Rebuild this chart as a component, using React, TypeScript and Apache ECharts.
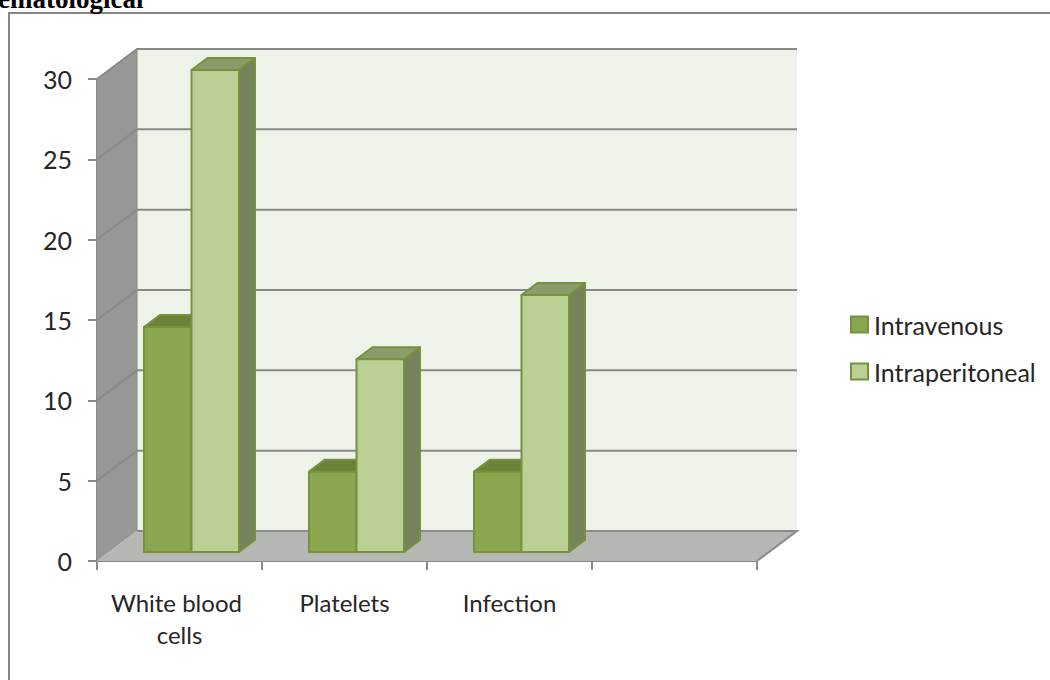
import React, { useEffect, useRef } from "react";
import * as echarts from "echarts";

const categories = ["White blood cells", "Platelets", "Infection", ""];
const intravenous = [14, 5, 5];
const intraperitoneal = [30, 12, 16];
const yTicks = [0, 5, 10, 15, 20, 25, 30];
const Y_MAX = 30;

// 3D projection offsets
const DEPTH = { x: 40, y: -30 };
const BAR_DEPTH = { x: 16, y: -12 };
const BAR_INSET = { x: 12, y: -9 };
const BAR_FRACTION = 0.2879;

const FONT = "Lato";
const TEXT = "#262626";
const LINE = "#8a8a8a";

function wallsItem(params: any, api: any) {
  const band = api.size([1, 0])[0];
  const left = api.coord([0, 0])[0] - band / 2;
  const right = left + band * categories.length;
  const y0 = api.coord([0, 0])[1];
  const yTop = api.coord([0, Y_MAX])[1];
  const d = DEPTH;
  return {
    type: "group",
    children: [
      { type: "polygon", shape: { points: [[left + d.x, yTop + d.y], [right + d.x, yTop + d.y], [right + d.x, y0 + d.y], [left + d.x, y0 + d.y]] }, style: { fill: "#eef3e9", stroke: "none" } },
      { type: "polygon", shape: { points: [[left, yTop], [left + d.x, yTop + d.y], [left + d.x, y0 + d.y], [left, y0]] }, style: { fill: "#969894", stroke: "none" } },
      { type: "polygon", shape: { points: [[left, y0], [left + d.x, y0 + d.y], [right + d.x, y0 + d.y], [right, y0]] }, style: { fill: "#b5b7b2", stroke: "none" } },
      { type: "polyline", shape: { points: [[right, y0], [right + d.x, y0 + d.y], [left + d.x, y0 + d.y]] }, style: { fill: "none", stroke: LINE, lineWidth: 2 } },
      { type: "polyline", shape: { points: [[left, yTop], [left + d.x, yTop + d.y], [right + d.x, yTop + d.y]] }, style: { fill: "none", stroke: LINE, lineWidth: 2 } },
      { type: "line", shape: { x1: left + d.x, y1: yTop + d.y, x2: left + d.x, y2: y0 + d.y }, style: { stroke: LINE, lineWidth: 1 } },
    ],
  };
}

function gridItem(params: any, api: any) {
  const band = api.size([1, 0])[0];
  const left = api.coord([0, 0])[0] - band / 2;
  const right = left + band * categories.length;
  const y = api.coord([0, api.value(1)])[1];
  const d = DEPTH;
  return {
    type: "polyline",
    shape: { points: [[left, y], [left + d.x, y + d.y], [right + d.x, y + d.y]] },
    style: { fill: "none", stroke: LINE, lineWidth: 2 },
  };
}

function barItem(side: -1 | 1, front: string, top: string, flank: string) {
  return (params: any, api: any) => {
    const band = api.size([1, 0])[0];
    const w = band * BAR_FRACTION;
    const c = api.coord([api.value(0), 0]);
    const t = api.coord([api.value(0), api.value(1)]);
    const x0 = (side < 0 ? c[0] - w : c[0]) + BAR_INSET.x;
    const x1 = x0 + w;
    const yb = c[1] + BAR_INSET.y;
    const yt = t[1] + BAR_INSET.y;
    const b = BAR_DEPTH;
    const stroke = "#76923c";
    const style = (fill: string) => ({ fill, stroke, lineWidth: 2, lineJoin: "round" });
    return {
      type: "group",
      children: [
        { type: "polygon", shape: { points: [[x1, yt], [x1 + b.x, yt + b.y], [x1 + b.x, yb + b.y], [x1, yb]] }, style: style(flank) },
        { type: "polygon", shape: { points: [[x0, yt], [x0 + b.x, yt + b.y], [x1 + b.x, yt + b.y], [x1, yt]] }, style: style(top) },
        { type: "rect", shape: { x: x0, y: yt, width: w, height: yb - yt }, style: style(front) },
      ],
    };
  };
}

export default function App() {
  const ref = useRef<HTMLDivElement>(null);
  useEffect(() => {
    const chart = echarts.init(ref.current!, undefined, { renderer: "svg" });
    chart.setOption({
      animation: false,
      backgroundColor: "#ffffff",
      title: {
        text: "ematological",
        left: -2,
        top: -15,
        padding: 0,
        textStyle: { fontFamily: "Liberation Serif", fontWeight: "bold", fontSize: 27, color: "#000000" },
      },
      graphic: [
        { type: "rect", shape: { x: 9, y: 13, width: 1100, height: 720 }, style: { fill: "none", stroke: "#868686", lineWidth: 2 }, silent: true },
      ],
      grid: { left: 97, top: 79, width: 660, height: 482 },
      legend: {
        orient: "vertical",
        left: 850,
        top: 312,
        padding: 0,
        itemWidth: 17,
        itemHeight: 16,
        itemGap: 22,
        itemStyle: { borderWidth: 2 },
        icon: "rect",
        data: ["Intravenous", "Intraperitoneal"],
        textStyle: { fontFamily: FONT, fontSize: 25, color: TEXT, padding: [0, 0, 0, 1] },
      },
      xAxis: {
        type: "category",
        data: categories,
        axisLine: { lineStyle: { color: LINE, width: 2 } },
        axisTick: { show: true, length: 9, alignWithLabel: false, lineStyle: { color: LINE, width: 2 } },
        axisLabel: { fontFamily: FONT, fontSize: 24, color: TEXT, margin: 25, width: 150, overflow: "break", lineHeight: 32, interval: 0 },
      },
      yAxis: {
        type: "value",
        min: 0,
        max: Y_MAX,
        interval: 5,
        axisLine: { show: true, lineStyle: { color: LINE, width: 2 } },
        axisTick: { show: true, length: 9, lineStyle: { color: LINE, width: 2 } },
        axisLabel: { fontFamily: FONT, fontSize: 25, color: TEXT, margin: 25 },
        splitLine: { show: false },
      },
      series: [
        { type: "custom", silent: true, z: 1, renderItem: wallsItem, data: [[0, 0]], tooltip: { show: false } },
        { type: "custom", silent: true, z: 2, renderItem: gridItem, data: yTicks.slice(1, -1).map((t) => [0, t]) },
        {
          type: "custom", name: "Intravenous", z: 3,
          renderItem: barItem(-1, "#8aa64e", "#6a8339", "#5f7434"),
          itemStyle: { color: "#8aa64e", borderColor: "#76923c", borderWidth: 2 },
          data: intravenous.map((v, i) => [i, v]),
        },
        {
          type: "custom", name: "Intraperitoneal", z: 4,
          renderItem: barItem(1, "#bad094", "#8a9c6c", "#75825c"),
          itemStyle: { color: "#bad094", borderColor: "#76923c", borderWidth: 2 },
          data: intraperitoneal.map((v, i) => [i, v]),
        },
      ],
    });
    return () => chart.dispose();
  }, []);
  return <div ref={ref} style={{ position: "fixed", left: 0, top: 0, width: 1050, height: 680 }} />;
}
